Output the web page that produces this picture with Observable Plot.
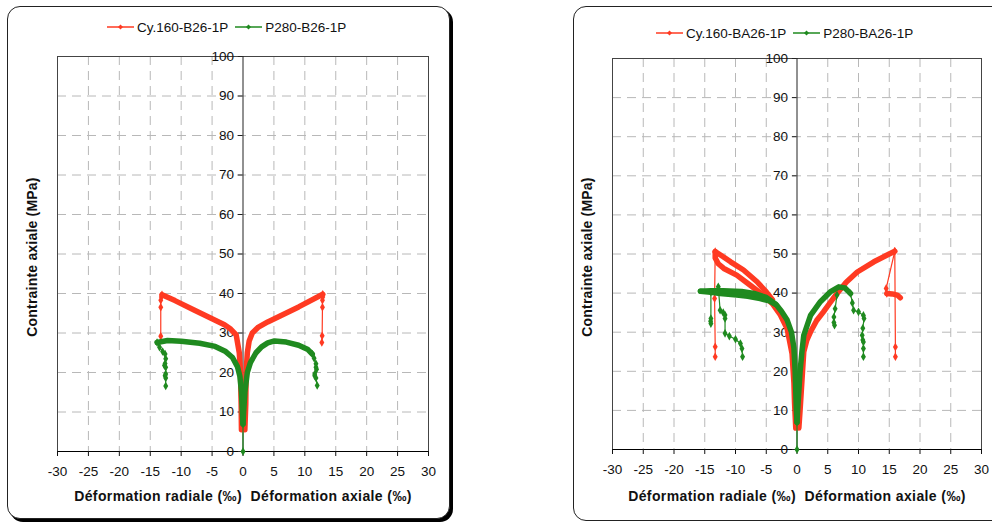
<!DOCTYPE html>
<html><head><meta charset="utf-8">
<script src="https://cdn.jsdelivr.net/npm/d3@7"></script>
<script src="https://cdn.jsdelivr.net/npm/@observablehq/plot@0.6"></script>
<style>
body{margin:0;width:992px;height:522px;overflow:hidden;background:#fff;position:relative;font-family:"Liberation Sans",Arial,sans-serif;color:#111}
.panel{position:absolute;border:1.5px solid #222;border-radius:13px;box-sizing:border-box;background:#fff}
.legend{position:absolute;font-size:13.5px;display:flex;align-items:center;white-space:nowrap;height:16px}
.legend span{margin-right:7px}
.xt{position:absolute;font-weight:bold;font-size:14px;white-space:pre;transform:translateX(-50%);letter-spacing:0.4px}
.yt{position:absolute;font-weight:bold;font-size:14px;white-space:nowrap;transform:translate(-50%,-50%) rotate(-90deg);letter-spacing:0.2px}
.chart{position:absolute;top:0}
</style></head>
<body>
<div class="panel" style="left:7px;top:6px;width:443px;height:513px;box-shadow:3px 3px 0 #000"></div>
<div class="panel" style="left:573px;top:6px;width:440px;height:515px;border-width:1px"></div>
<div id="c1" class="chart" style="left:0"></div>
<div id="c2" class="chart" style="left:520px"></div>
<div id="lg1" class="legend" style="left:107px;top:19px"></div>
<div id="lg2" class="legend" style="left:656px;top:25px"></div>
<div class="yt" style="left:32px;top:257px">Contrainte axiale (MPa)</div>
<div class="yt" style="left:587px;top:257px">Contrainte axiale (MPa)</div>
<div class="xt" style="left:243px;top:488px">Déformation radiale (‰)  Déformation axiale (‰)</div>
<div class="xt" style="left:797px;top:488px">Déformation radiale (‰)  Déformation axiale (‰)</div>
<script>
// ---------- axes ----------
const xTicks = [-30,-25,-20,-15,-10,-5,0,5,10,15,20,25,30];
const yTicks = [0,10,20,30,40,50,60,70,80,90,100];
const xGrid = [-25,-20,-15,-10,-5,5,10,15,20,25];
const yGrid = [10,20,30,40,50,60,70,80,90];

// ---------- series names ----------
const leftNames = ["Cy.160-B26-1P","P280-B26-1P"];
const rightNames = ["Cy.160-BA26-1P","P280-BA26-1P"];

// ---------- left chart (B26) : [strain ‰, stress MPa] ----------
const leftRedRadial = [[-0.25,5.5],[-0.3,12],[-0.4,20],[-0.6,25],[-1.1,29.5],[-2,31],[-3,32.1],[-5,33.6],[-8,35.9],[-11,38.2],[-13.1,39.7]];
const leftRedRadialDrop = [[-13.1,39.7],[-13.2,39.1],[-13.3,38.3],[-13.3,36.5],[-13.3,29.2]];
const leftRedAxial = [[0.3,5.5],[0.45,12],[0.5,20],[0.7,25],[1.0,28],[1.5,30],[2.5,31.5],[4,32.8],[6,34.3],[9,36.6],[12.9,39.8]];
const leftRedAxialDrop = [[12.9,39.8],[12.9,39.1],[12.85,38.3],[12.85,36.5],[12.8,29.3],[12.75,27.6]];
const leftGreenStart = [[0,0],[0,7]];
const leftGreenRadial = [[0,7],[-0.1,10],[-0.25,15],[-0.5,19],[-0.9,21.5],[-1.7,23.8],[-2.8,25.3],[-4.5,26.6],[-7,27.4],[-10,27.9],[-12.2,28.1],[-13.9,27.6]];
const leftGreenRadialDrop = [[-13.9,27.6],[-13.5,26.4],[-13,25.3],[-12.6,24.7],[-12.5,23.5],[-12.6,22.3],[-12.7,21.8],[-12.5,21.3],[-12.5,19.6],[-12.6,19.2],[-12.5,18.6],[-12.5,16.6]];
const leftGreenAxial = [[0,7],[0.1,10],[0.3,15],[0.7,20],[1.2,22.5],[2.1,25],[3,26.5],[4,27.5],[5.1,28],[7,27.7],[9,26.9],[10.5,25.8],[11.2,24.7]];
const leftGreenAxialDrop = [[11.2,24.7],[11.5,23.6],[11.8,22.2],[11.8,21.3],[11.9,20.8],[11.6,19.6],[11.6,19.2],[11.8,18.6],[12.0,16.7]];

// ---------- right chart (BA26) ----------
const rightRedRadialLower = [[-0.2,5.5],[-0.4,12],[-0.5,17],[-0.8,24.5],[-1.6,30.9],[-2.7,34.4],[-4,37.3],[-5.5,39.5],[-7.6,42],[-9.8,44.6],[-11.9,46.3],[-12.8,47.5],[-13.3,49],[-13.3,50.6]];
const rightRedRadialUpper = [[-13.3,50.6],[-12,49.3],[-10.8,48],[-8.7,45.9],[-6.5,42.9],[-5,40.3],[-4,38.3]];
const rightRedRadialDrop = [[-13.3,50.6],[-13.4,38.6],[-13.3,26.3],[-13.3,23.7]];
const rightRedAxial = [[0.3,5.5],[0.5,10],[0.7,15],[0.9,20],[1.1,25],[1.6,28],[2.2,30.1],[3.2,33],[4.3,35.2],[5.4,37.6],[6.5,39.9],[8,42.8],[9.8,45.4],[12.5,48],[14.5,49.6],[15.9,50.7]];
const rightRedAxialTail = [[15.9,50.7],[14.5,41.2],[14.6,39.9]];
const rightRedAxialFlat = [[14.6,39.9],[15.5,39.8],[16.3,39.5],[16.8,38.8]];
const rightRedAxialDrop = [[15.9,50.7],[16.0,26.2],[16.0,23.7]];
const rightGreenStart = [[0,0],[0,7]];
const rightGreenRadial = [[0,7],[-0.1,10],[-0.2,15],[-0.3,20],[-0.5,26],[-0.9,30],[-1.6,33.1],[-2.5,35.3],[-3.3,36.9],[-4.5,38],[-6,38.6],[-8,39.2],[-9.8,39.5],[-12.5,39.9],[-14,40.2],[-15.7,40.5]];
const rightGreenRadialUpper = [[-15.7,40.5],[-14,40.6],[-12,40.6],[-9,40.4],[-7,39.9],[-5,38.9],[-3.5,37.2]];
const rightGreenRadialDrop1 = [[-14,40.2],[-14,33.5],[-14.05,32.8],[-14,32.2]];
const rightGreenRadialDrop2 = [[-12.8,41.6],[-12.5,35.6],[-12,35],[-11.7,34.4],[-11.7,33.5],[-11.7,29.7],[-11,29],[-10,28.2],[-9.2,27.1],[-8.95,25.8],[-8.85,23.7]];
const rightGreenAxial = [[0,7],[0.1,10],[0.3,15],[0.5,20],[0.8,25],[1.1,29.2],[2.2,34.3],[3.8,37.8],[5.4,40.3],[6.8,41.6],[7.8,41.3],[8.7,39.9]];
const rightGreenAxialDrop = [[8.7,39.9],[9.0,37.5],[9.2,35.6],[10,35.2],[10.8,34.3],[10.9,33.5],[10.7,31],[10.6,29.2],[10.7,28],[10.8,27.5],[10.8,25.8],[10.8,23.7]];
const rightGreenHook = [[6.5,39.5],[6.2,36],[6.0,33.9],[6.0,32.5],[6.1,31.8]];

// ---------- styles ----------
const RED = "#ff3a22", GREEN = "#1f8a1f";
const THICK = 5.5;

function thick(pts, color) {
  return [Plot.line(pts, {x: d => d[0], y: d => d[1], stroke: color, strokeWidth: THICK, strokeLinejoin: "round", strokeLinecap: "round"})];
}
function thin(pts, color) {
  return [
    Plot.line(pts, {x: d => d[0], y: d => d[1], stroke: color, strokeWidth: 1.2}),
    Plot.dot(pts, {x: d => d[0], y: d => d[1], fill: color, r: 2.6, symbol: "diamond"})
  ];
}

function chart(margins, seriesMarks) {
  return Plot.plot({
    width: margins.width, height: 522,
    marginLeft: margins.l, marginRight: margins.r, marginTop: margins.t, marginBottom: margins.b,
    style: {fontFamily: '"Liberation Sans", Arial, sans-serif', fontSize: "13.5px", color: "#111", background: "transparent"},
    x: {domain: [-30, 30], axis: null},
    y: {domain: [0, 100], axis: null},
    marks: [
      Plot.ruleX(xGrid, {stroke: "#b8b8b8", strokeDasharray: "9,6"}),
      Plot.ruleY(yGrid, {stroke: "#b8b8b8", strokeDasharray: "9,6"}),
      Plot.frame({stroke: "#444"}),
      Plot.ruleX([0], {stroke: "#222"}),
      Plot.ruleY([0], {stroke: "#000"}),
      Plot.axisX({ticks: xTicks, tickSize: 5, tickPadding: 10, label: null, tickFormat: d => String(d), fontSize: 13.5}),
      Plot.ruleY(yTicks, {x1: -0.75, x2: 0, stroke: "#222"}),
      Plot.text(yTicks, {x: 0, y: d => d, text: d => String(d), textAnchor: "end", dx: -9, fontSize: 13.5, fill: "#111"}),
      ...seriesMarks
    ]
  });
}

document.getElementById("c1").append(chart({width: 460, l: 57, r: 32, t: 56, b: 71}, [
  ...thick(leftRedRadial, RED), ...thin(leftRedRadialDrop, RED),
  ...thick(leftRedAxial, RED), ...thin(leftRedAxialDrop, RED),
  ...thin(leftGreenStart, GREEN),
  ...thick(leftGreenRadial, GREEN), ...thin(leftGreenRadialDrop, GREEN),
  ...thick(leftGreenAxial, GREEN), ...thin(leftGreenAxialDrop, GREEN)
]));

document.getElementById("c2").append(chart({width: 472, l: 92, r: 11, t: 58, b: 73}, [
  ...thick(rightRedRadialLower, RED), ...thick(rightRedRadialUpper, RED), ...thin(rightRedRadialDrop, RED),
  ...thick(rightRedAxial, RED), ...thin(rightRedAxialTail, RED), ...thick(rightRedAxialFlat, RED), ...thin(rightRedAxialDrop, RED),
  ...thin(rightGreenStart, GREEN),
  ...thick(rightGreenRadial, GREEN), ...thick(rightGreenRadialUpper, GREEN),
  ...thin(rightGreenRadialDrop1, GREEN), ...thin(rightGreenRadialDrop2, GREEN),
  ...thick(rightGreenAxial, GREEN), ...thin(rightGreenAxialDrop, GREEN), ...thin(rightGreenHook, GREEN)
]));

function legend(el, names) {
  const colors = [RED, GREEN];
  names.forEach((n, i) => {
    const sw = document.createElementNS("http://www.w3.org/2000/svg", "svg");
    sw.setAttribute("width", 27); sw.setAttribute("height", 8);
    sw.style.marginRight = "3px";
    sw.innerHTML = `<line x1="0" y1="4" x2="27" y2="4" stroke="${colors[i]}" stroke-width="1.5"/><path d="M13.5 1.5 L16 4 L13.5 6.5 L11 4 Z" fill="${colors[i]}"/>`;
    el.append(sw);
    const t = document.createElement("span");
    t.textContent = n;
    el.append(t);
  });
}
legend(document.getElementById("lg1"), leftNames);
legend(document.getElementById("lg2"), rightNames);
</script>
</body></html>
